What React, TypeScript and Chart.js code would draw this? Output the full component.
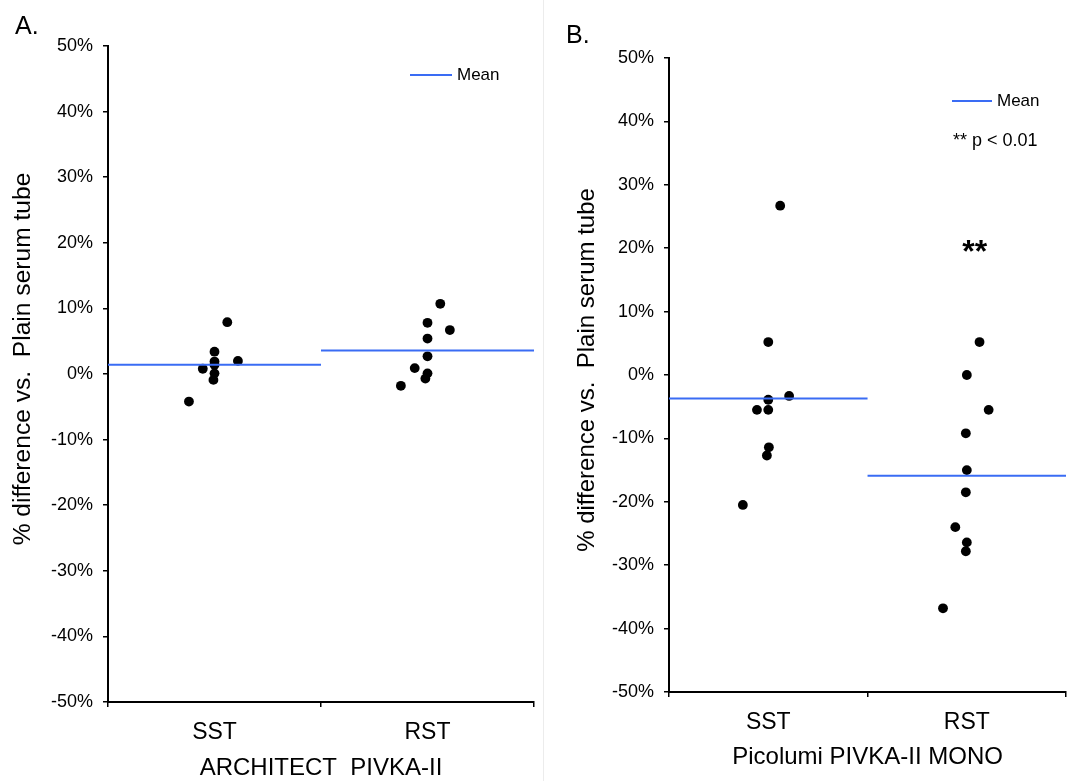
import React, { useEffect, useRef } from 'react';
import { Chart, registerables } from 'chart.js';

Chart.register(...registerables);

const FONT = '"Liberation Sans", Arial, sans-serif';

const categories = ['SST', 'RST'];
const yTitle = '% difference vs.  Plain serum tube';

// Panel A: ARCHITECT PIVKA-II
const archTitle = 'ARCHITECT  PIVKA-II';
const archSST = [7.9, 3.4, 1.9, 1.4, 0.8, 2.0, 0.1, -0.9, -4.2];
const archSSTJitter = [0.06, 0, 0, 0, -0.055, 0.11, 0, -0.005, -0.12];
const archRST = [10.7, 7.8, 6.7, 5.4, 2.7, 0.9, 0.1, -0.7, -1.8];
const archRSTJitter = [0.06, 0, 0.105, 0, 0, -0.06, 0, -0.01, -0.125];
const archMean = [1.4, 3.6];

// Panel B: Picolumi PIVKA-II MONO
const picoTitle = 'Picolumi PIVKA-II MONO';
const picoSST = [26.7, 5.2, -3.3, -3.9, -5.5, -5.5, -11.4, -12.7, -20.5];
const picoSSTJitter = [0.06, 0, 0.105, 0, -0.057, 0, 0.003, -0.007, -0.128];
const picoRST = [5.2, 0, -5.5, -9.2, -15.0, -18.5, -24.0, -26.4, -27.8, -36.8];
const picoRSTJitter = [0.064, 0, 0.11, -0.005, 0, -0.005, -0.058, 0, -0.005, -0.12];
const picoMean = [-3.7, -15.9];
const picoSig = { category: 1, offset: 0.04, y: 20.2, label: '**' };
const pValueNote = '** p < 0.01';
const legendLabel = 'Mean';

const MEAN_COLOR = '#3a6cf4';

type PanelOpts = {
  title: string;
  sst: number[];
  sstJ: number[];
  rst: number[];
  rstJ: number[];
  means: number[];
  padTop: number;
  padRight: number;
  yAxisWidth: number;
  xAxisHeight: number;
  yTitlePos: { x: number; y: number; size: number };
  xTitlePad: number;
  legend: { x1: number; x2: number; y: number };
  note?: { x: number; y: number };
  sig?: { category: number; offset: number; y: number; label: string };
};

function pts(vals: number[], jit: number[], cat: number) {
  return vals.map((v, i) => ({ x: cat + 0.5 + jit[i], y: v }));
}

function makeChart(canvas: HTMLCanvasElement, o: PanelOpts) {
  const extras = {
    id: 'extras',
    afterDraw(chart: any) {
      const ctx = chart.ctx;
      ctx.save();
      // y-axis title
      ctx.save();
      ctx.fillStyle = '#000';
      ctx.font = `${o.yTitlePos.size}px ${FONT}`;
      ctx.textAlign = 'center';
      ctx.textBaseline = 'middle';
      ctx.translate(o.yTitlePos.x, o.yTitlePos.y);
      ctx.rotate(-Math.PI / 2);
      ctx.fillText(yTitle, 0, 0);
      ctx.restore();
      // legend
      ctx.strokeStyle = MEAN_COLOR;
      ctx.lineWidth = 2;
      ctx.beginPath();
      ctx.moveTo(o.legend.x1, o.legend.y);
      ctx.lineTo(o.legend.x2, o.legend.y);
      ctx.stroke();
      ctx.fillStyle = '#000';
      ctx.font = `17px ${FONT}`;
      ctx.textBaseline = 'middle';
      ctx.textAlign = 'left';
      ctx.fillText(legendLabel, o.legend.x2 + 5, o.legend.y);
      if (o.note) {
        ctx.font = `18px ${FONT}`;
        ctx.fillText(pValueNote, o.note.x, o.note.y);
      }
      if (o.sig) {
        const x = chart.scales.x.getPixelForValue(o.sig.category + 0.5 + o.sig.offset);
        const y = chart.scales.y.getPixelForValue(o.sig.y);
        ctx.font = `bold 32px ${FONT}`;
        ctx.textAlign = 'center';
        ctx.fillText(o.sig.label, x, y + 6);
      }
      ctx.restore();
    },
  };

  const meanDs = (m: number, cat: number) => ({
    type: 'line' as const,
    data: [
      { x: cat, y: m },
      { x: cat + 1, y: m },
    ],
    borderColor: MEAN_COLOR,
    borderWidth: 2,
    pointRadius: 0,
    fill: false,
  });

  const dotDs = (data: any[]) => ({
    type: 'scatter' as const,
    data,
    backgroundColor: '#000',
    borderColor: '#000',
    pointRadius: 4.9,
    borderWidth: 0,
  });

  return new Chart(canvas, {
    type: 'scatter',
    data: {
      datasets: [
        meanDs(o.means[0], 0),
        meanDs(o.means[1], 1),
        dotDs(pts(o.sst, o.sstJ, 0)),
        dotDs(pts(o.rst, o.rstJ, 1)),
      ] as any,
    },
    options: {
      responsive: false,
      animation: false,
      devicePixelRatio: 1,
      layout: { padding: { top: o.padTop, right: o.padRight, bottom: 0, left: 0 } },
      plugins: { legend: { display: false }, tooltip: { enabled: false } },
      scales: {
        x: {
          type: 'linear',
          min: 0,
          max: 2,
          afterBuildTicks: (s: any) => {
            s.ticks = [0, 0.5, 1, 1.5, 2].map((v) => ({ value: v }));
          },
          afterFit: (s: any) => {
            s.height = o.xAxisHeight;
            s.paddingRight = 0;
            s.paddingLeft = 0;
          },
          ticks: {
            autoSkip: false,
            maxRotation: 0,
            minRotation: 0,
            padding: 12,
            color: '#000',
            font: { family: FONT, size: 23 },
            callback: (v: any) => (v === 0.5 ? categories[0] : v === 1.5 ? categories[1] : ''),
          },
          grid: {
            drawOnChartArea: false,
            color: '#000',
            lineWidth: 1.5,
            tickLength: 5,
            tickColor: (ctx: any) =>
              ctx.tick && Number.isInteger(ctx.tick.value) ? '#000' : 'rgba(0,0,0,0)',
          },
          border: { color: '#000', width: 2 },
          title: {
            display: true,
            text: o.title,
            color: '#000',
            font: { family: FONT, size: 24 },
            padding: { top: 0, bottom: o.xTitlePad },
          },
        },
        y: {
          type: 'linear',
          min: -50,
          max: 50,
          afterFit: (s: any) => {
            s.width = o.yAxisWidth;
          },
          ticks: {
            stepSize: 10,
            padding: 10,
            color: '#000',
            font: { family: FONT, size: 18 },
            callback: (v: any) => `${v}%`,
          },
          grid: {
            drawOnChartArea: false,
            color: '#000',
            lineWidth: 1.5,
            tickLength: 5,
          },
          border: { color: '#000', width: 2 },
        },
      },
    },
    plugins: [extras],
  } as any);
}

export default function App() {
  const refA = useRef<HTMLCanvasElement>(null);
  const refB = useRef<HTMLCanvasElement>(null);

  useEffect(() => {
    Chart.defaults.font.family = FONT;
    const a = makeChart(refA.current!, {
      title: archTitle,
      sst: archSST,
      sstJ: archSSTJitter,
      rst: archRST,
      rstJ: archRSTJitter,
      means: archMean,
      padTop: 46,
      padRight: 9,
      yAxisWidth: 108,
      xAxisHeight: 79,
      yTitlePos: { x: 23, y: 359, size: 24.6 },
      xTitlePad: -2,
      legend: { x1: 410, x2: 452, y: 75 },
    });
    const b = makeChart(refB.current!, {
      title: picoTitle,
      sst: picoSST,
      sstJ: picoSSTJitter,
      rst: picoRST,
      rstJ: picoRSTJitter,
      means: picoMean,
      padTop: 58,
      padRight: 0,
      yAxisWidth: 126,
      xAxisHeight: 89,
      yTitlePos: { x: 44, y: 370, size: 24 },
      xTitlePad: 9,
      legend: { x1: 409, x2: 449, y: 101 },
      note: { x: 410, y: 141 },
      sig: picoSig,
    });
    return () => {
      a.destroy();
      b.destroy();
    };
  }, []);

  return (
    <div
      style={{
        position: 'fixed',
        left: 0,
        top: 0,
        width: 1067,
        height: 781,
        background: '#fff',
        fontFamily: FONT,
        overflow: 'hidden',
      }}
    >
      <canvas ref={refA} width={543} height={781} style={{ position: 'absolute', left: 0, top: 0 }} />
      <canvas ref={refB} width={528} height={781} style={{ position: 'absolute', left: 543, top: 0 }} />
      <div style={{ position: 'absolute', left: 543, top: 0, width: 1, height: 781, background: '#ececec' }} />
      <div style={{ position: 'absolute', left: 15, top: 10, fontSize: 25, lineHeight: '30px', color: '#000' }}>A.</div>
      <div style={{ position: 'absolute', left: 566, top: 19, fontSize: 25, lineHeight: '30px', color: '#000' }}>B.</div>
    </div>
  );
}
